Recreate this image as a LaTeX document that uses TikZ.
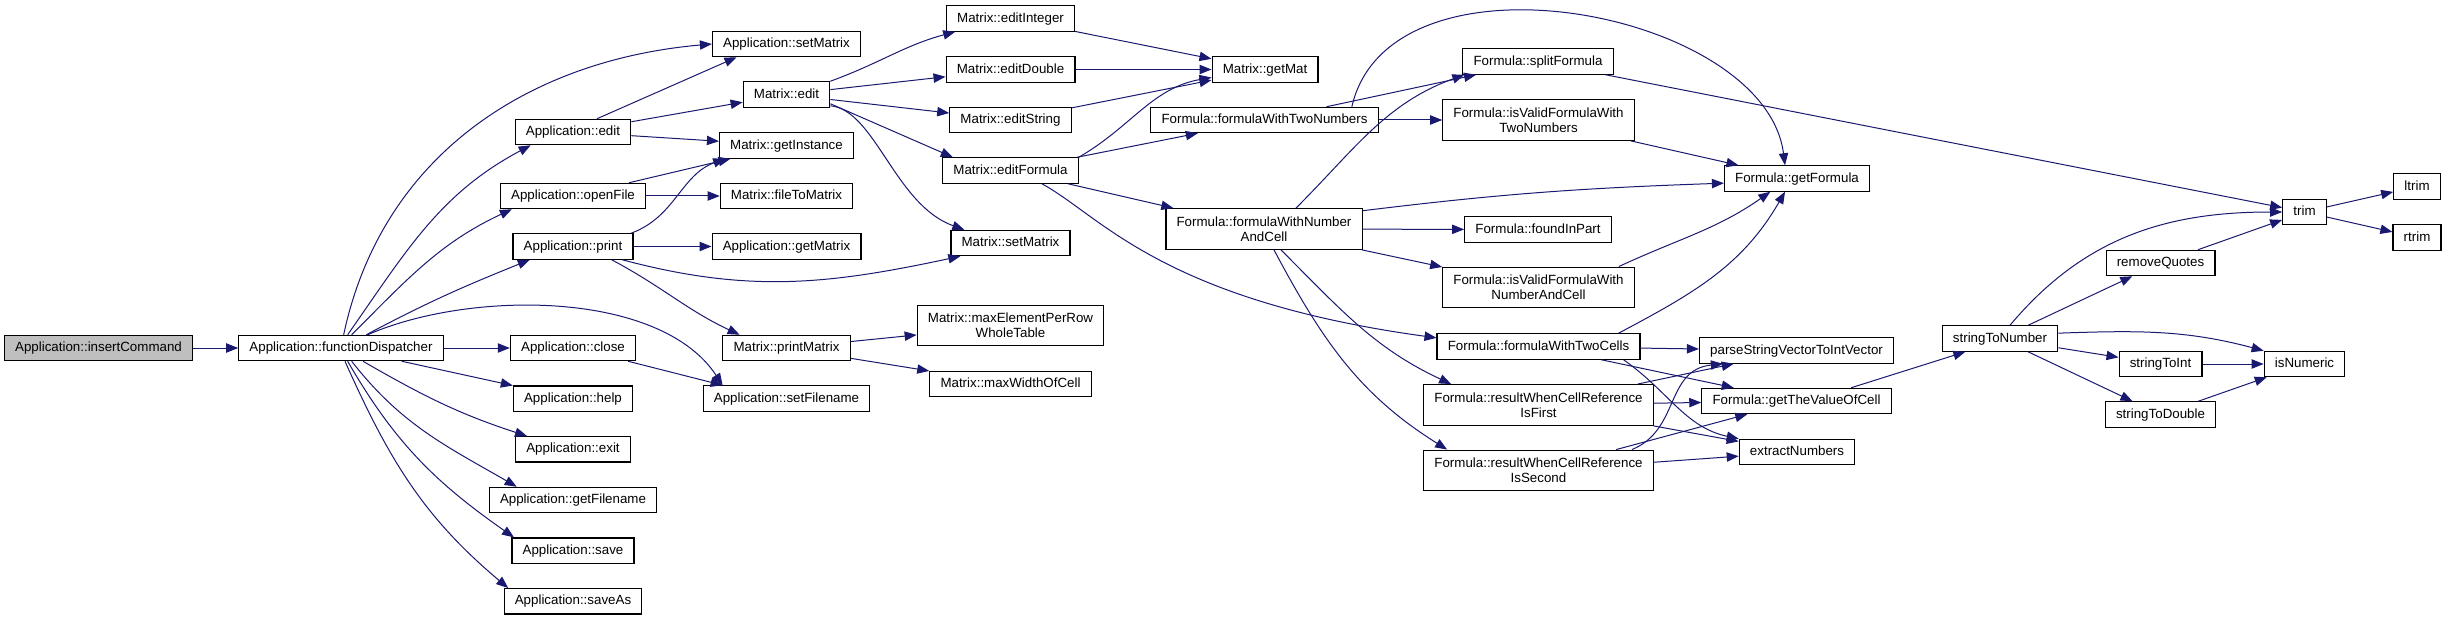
\documentclass[tikz,border=0pt]{standalone}
\usepackage{fontspec}
\setmainfont{Liberation Sans}
\usetikzlibrary{positioning,arrows.meta}

\definecolor{callblue}{HTML}{191970}
\definecolor{rootgray}{HTML}{BFBFBF}

\begin{document}
\begin{tikzpicture}[x=0.75pt, y=0.75pt, node distance=38pt,
    >={Triangle[length=9pt,width=7pt]}, ->, draw=callblue, line width=0.75pt,
    fn/.style={draw=black, rectangle, fill=white, text=black, line width=0.9pt,
      inner xsep=8pt, inner ysep=0pt, minimum height=19pt,
      text height=7.4pt, text depth=2.1pt, font=\fontsize{10}{11.25}\selectfont},
    fn2/.style={draw=black, rectangle, fill=white, text=black, line width=0.9pt,
      inner xsep=8pt, inner ysep=0pt, minimum height=30.5pt, align=center,
      font=\fontsize{10}{11.25}\selectfont}]
  \useasboundingbox (0,0) rectangle (2447,-620);

  % Application
  \node (insertCmd) [fn, fill=rootgray] at (98.5,-348) {Application::insertCommand};
  \node (funcDisp) [fn] at (341,-348) {Application::functionDispatcher};
  \node (appEdit) [fn] at (573,-132) {Application::edit};
  \node (appOpenFile) [fn] at (573,-196) {Application::openFile};
  \node (appPrint) [fn] at (573,-246.5) {Application::print};
  \node (appClose) [fn] at (573,-348) {Application::close};
  \node (appHelp) [fn, below of=appClose] {Application::help};
  \node (appExit) [fn, below of=appHelp] {Application::exit};
  \node (appGetFilename) [fn, below of=appExit] {Application::getFilename};
  \node (appSave) [fn, below of=appGetFilename] {Application::save};
  \node (appSaveAs) [fn, below of=appSave] {Application::saveAs};
  \node (appSetMatrix) [fn] at (786.5,-44) {Application::setMatrix};
  \node (appGetMatrix) [fn] at (786.5,-246.5) {Application::getMatrix};
  \node (setFilename) [fn] at (786.5,-398.5) {Application::setFilename};

  % Matrix
  \node (matEdit) [fn] at (786.5,-94.5) {Matrix::edit};
  \node (getInstance) [fn] at (786.5,-145.5) {Matrix::getInstance};
  \node (fileToMatrix) [fn] at (786.5,-196) {Matrix::fileToMatrix};
  \node (printMatrix) [fn] at (786.5,-348) {Matrix::printMatrix};
  \node (editInteger) [fn] at (1010.5,-18.5) {Matrix::editInteger};
  \node (editDouble) [fn] at (1010.5,-69.5) {Matrix::editDouble};
  \node (editString) [fn] at (1010.5,-120) {Matrix::editString};
  \node (editFormula) [fn] at (1010.5,-170.5) {Matrix::editFormula};
  \node (matSetMatrix) [fn] at (1010.5,-243) {Matrix::setMatrix};
  \node (maxElem) [fn2] at (1010.5,-325.5) {Matrix::maxElementPerRow\\WholeTable};
  \node (maxWidth) [fn] at (1010.5,-384) {Matrix::maxWidthOfCell};
  \node (getMat) [fn] at (1265,-69.5) {Matrix::getMat};

  % Formula
  \node (twoNumbers) [fn] at (1264.5,-120) {Formula::formulaWithTwoNumbers};
  \node (numberCell) [fn2] at (1264,-229) {Formula::formulaWithNumber\\AndCell};
  \node (splitFormula) [fn] at (1538,-61.5) {Formula::splitFormula};
  \node (validTwo) [fn2] at (1538.5,-120) {Formula::isValidFormulaWith\\TwoNumbers};
  \node (foundInPart) [fn] at (1538,-229.5) {Formula::foundInPart};
  \node (validNumCell) [fn2] at (1538.5,-287.5) {Formula::isValidFormulaWith\\NumberAndCell};
  \node (twoCells) [fn] at (1538.5,-346.5) {Formula::formulaWithTwoCells};
  \node (resFirst) [fn2] at (1538.5,-405) {Formula::resultWhenCellReference\\IsFirst};
  \node (resSecond) [fn2] at (1538.5,-470.5) {Formula::resultWhenCellReference\\IsSecond};
  \node (getFormula) [fn] at (1797,-178.5) {Formula::getFormula};
  \node (parseVec) [fn] at (1796.5,-350.5) {parseStringVectorToIntVector};
  \node (getValue) [fn] at (1796.5,-401) {Formula::getTheValueOfCell};
  \node (extractNum) [fn] at (1797,-452) {extractNumbers};

  % helpers
  \node (strToNum) [fn] at (2000,-338.5) {stringToNumber};
  \node (removeQuotes) [fn] at (2160.5,-263) {removeQuotes};
  \node (strToInt) [fn] at (2160.5,-364) {stringToInt};
  \node (strToDouble) [fn] at (2160.5,-414.5) {stringToDouble};
  \node (isNumeric) [fn] at (2304.5,-364) {isNumeric};
  \node (trim) [fn] at (2304.5,-212) {trim};
  \node (ltrim) [fn] at (2417,-186.5) {ltrim};
  \node (rtrim) [fn] at (2417,-237.5) {rtrim};

  % dispatcher calls
  \draw (insertCmd) -- (funcDisp);
  \draw ([xshift=2pt]funcDisp.north) to[out=78,in=185] (appSetMatrix.west);
  \draw ([xshift=5pt]funcDisp.north) to[out=55,in=208] ([xshift=12pt]appEdit.south west);
  \draw ([xshift=8pt]funcDisp.north) to[out=45,in=205] ([xshift=9pt]appOpenFile.south west);
  \draw ([xshift=19pt]funcDisp.north) to[out=28,in=202] ([xshift=13pt]appPrint.south west);
  \draw ([xshift=20pt]funcDisp.north) .. controls (470,-290) and (660,-290) .. ([xshift=15pt]setFilename.north west);
  \draw (funcDisp) -- (appClose);
  \draw (funcDisp) -- (appHelp);
  \draw ([xshift=16.5pt]funcDisp.south) to[out=-30,in=162] ([xshift=9pt]appExit.north west);
  \draw ([xshift=8pt]funcDisp.south) to[out=-52,in=150] ([xshift=21pt]appGetFilename.north west);
  \draw ([xshift=5pt]funcDisp.south) to[out=-60,in=145] ([xshift=2pt]appSave.north west);
  \draw ([xshift=3pt]funcDisp.south) to[out=-66,in=140] ([xshift=3.5pt]appSaveAs.north west);

  % application calls
  \draw ([xshift=18pt]appEdit.north) -- ([xshift=-37.5pt]appSetMatrix.south);
  \draw (appEdit) -- (matEdit);
  \draw (appEdit) -- (getInstance);
  \draw (appOpenFile) -- (getInstance);
  \draw (appOpenFile) -- (fileToMatrix);
  \draw ([xshift=43.5pt]appPrint.north) to[out=20,in=200] ([xshift=-46pt]getInstance.south);
  \draw (appPrint) -- (appGetMatrix);
  \draw ([xshift=37pt]appPrint.south) to[out=-15,in=192] ([xshift=7.5pt]matSetMatrix.south west);
  \draw ([xshift=29pt]appPrint.south) to[out=-28,in=155] ([xshift=13pt]printMatrix.north west);
  \draw ([xshift=-6pt]appClose.south east) -- ([xshift=15pt]setFilename.north west);

  % matrix calls
  \draw (matEdit.north east) to[out=20,in=195] ([xshift=7pt]editInteger.south west);
  \draw (matEdit) -- (editDouble);
  \draw (matEdit) -- (editString);
  \draw ([yshift=3pt]matEdit.south east) -- ([xshift=8pt]editFormula.north west);
  \draw ([yshift=1.5pt]matEdit.south east) .. controls (875,-110) and (895,-205) .. ([xshift=10.5pt]matSetMatrix.north west);
  \draw (editInteger) -- (getMat);
  \draw (editDouble) -- (getMat);
  \draw (editString) -- (getMat);
  \draw (editFormula.north east) to[out=30,in=190] ([yshift=-6pt]getMat.west);
  \draw (editFormula) -- (twoNumbers);
  \draw (editFormula) -- (numberCell);
  \draw ([xshift=23.5pt]editFormula.south) .. controls (1100,-215) and (1160,-300) .. ([yshift=6.5pt]twoCells.west);
  \draw (printMatrix) -- (maxElem);
  \draw (printMatrix) -- (maxWidth);

  % formula calls
  \draw (twoNumbers) -- (splitFormula);
  \draw (twoNumbers) -- (validTwo);
  \draw ([xshift=65.5pt]twoNumbers.north) .. controls (1390,60) and (1765,-10) .. ([xshift=-9pt]getFormula.north);
  \draw ([xshift=24pt]numberCell.north) to[out=45,in=200] ([xshift=1.5pt]splitFormula.south west);
  \draw ([yshift=-2pt]numberCell.north east) to[out=7,in=182] ([yshift=-3.5pt]getFormula.west);
  \draw (numberCell) -- (foundInPart);
  \draw (numberCell) -- (validNumCell);
  \draw ([xshift=12.75pt]numberCell.south) to[out=-45,in=155] ([xshift=21pt]resFirst.north west);
  \draw ([xshift=7.5pt]numberCell.south) to[out=-62,in=148] ([xshift=18pt]resSecond.north west);
  \draw (splitFormula) -- (trim);
  \draw (validTwo) -- (getFormula);
  \draw ([xshift=-12pt]validNumCell.north east) to[out=25,in=215] ([xshift=-20pt]getFormula.south);
  \draw ([xshift=-16.5pt]twoCells.north east) to[out=28,in=240] ([xshift=-9pt]getFormula.south);
  \draw (twoCells) -- (parseVec);
  \draw (twoCells) -- (getValue);
  \draw ([xshift=-12.75pt]twoCells.south east) to[out=-35,in=168] (extractNum.north west);
  \draw (resFirst) -- (parseVec);
  \draw (resFirst) -- (getValue);
  \draw (resFirst) -- (extractNum);
  \draw ([xshift=-16.5pt]resSecond.north east) .. controls (1680,-430) and (1665,-370) .. ([xshift=18pt]parseVec.south west);
  \draw (resSecond) -- (getValue);
  \draw (resSecond) -- (extractNum);

  % helper calls
  \draw ([xshift=41pt]getValue.north) -- ([xshift=-26pt]strToNum.south);
  \draw ([xshift=7.5pt]strToNum.north) to[out=50,in=180] (trim.west);
  \draw (strToNum) -- (removeQuotes);
  \draw ([yshift=4pt]strToNum.east) to[out=2,in=165] (isNumeric.north west);
  \draw (strToNum) -- (strToInt);
  \draw (strToNum) -- (strToDouble);
  \draw (removeQuotes) -- (trim);
  \draw (trim) -- (ltrim);
  \draw (trim) -- (rtrim);
  \draw (strToInt) -- (isNumeric);
  \draw (strToDouble) -- (isNumeric);
\end{tikzpicture}
\end{document}
